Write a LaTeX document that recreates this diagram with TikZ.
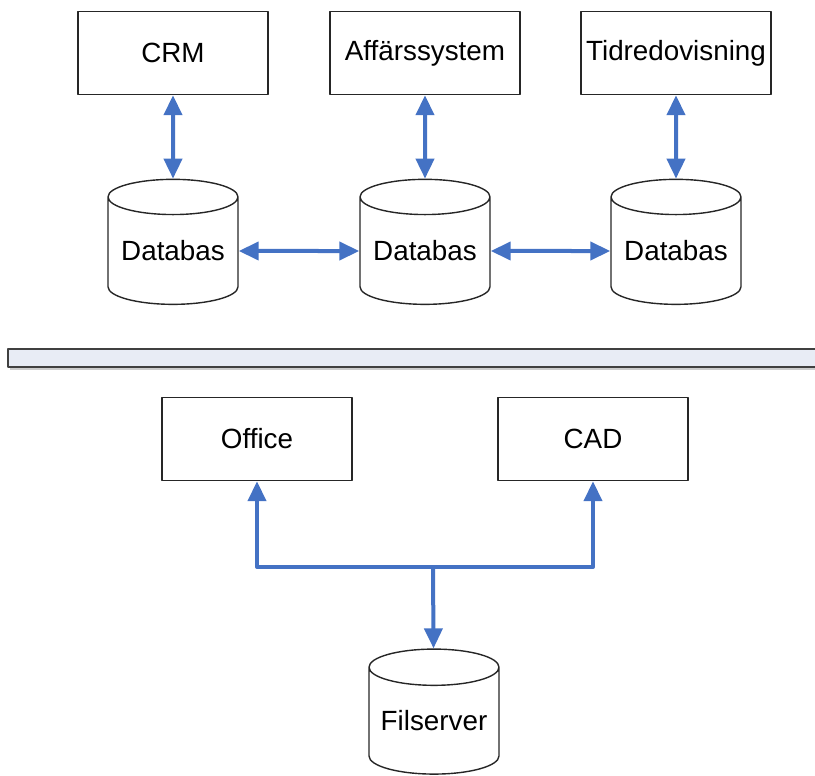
\documentclass[tikz,border=0pt]{standalone}
\usepackage{fontspec}
\setmainfont{Liberation Sans}
\usetikzlibrary{shapes.geometric,arrows.meta}
\definecolor{linkblue}{RGB}{68,114,196}
\definecolor{barfill}{RGB}{232,236,245}
\begin{document}
\begin{tikzpicture}[x=1pt, y=-1pt, line join=round,
		font=\fontsize{27.8}{31}\selectfont,
		sysbox/.style={draw=black!85, line width=1.4pt, minimum width=190pt, minimum height=83pt, inner sep=0pt},
		dbcyl/.style={draw=black!85, line width=1.4pt, cylinder, shape border rotate=90, aspect=0.34, minimum width=130pt, minimum height=125pt, inner sep=0pt},
		link/.style={draw=linkblue, line width=4pt, -{Triangle[length=20pt, width=18pt]}},
		dlink/.style={draw=linkblue, line width=4pt, {Triangle[length=20pt, width=18pt]}-{Triangle[length=20pt, width=18pt]}}]
	\useasboundingbox (0,0) rectangle (815,776);
	% upper part: systems with own databases
	\node[sysbox] (crm) at (173,53) {CRM};
	\node[sysbox] (aff) at (425,53) {Affärssystem};
	\node[sysbox] (tid) at (676,53) {Tidredovisning};
	\node[dbcyl] (db1) at (173,251) {Databas};
	\node[dbcyl] (db2) at (425,251) {Databas};
	\node[dbcyl] (db3) at (676,251) {Databas};
	\draw[dlink] (crm) -- (db1);
	\draw[dlink] (aff) -- (db2);
	\draw[dlink] (tid) -- (db3);
	\draw[dlink] (db1) -- (db2);
	\draw[dlink] (db2) -- (db3);
	% separator
	\fill[black!20] (10,366) rectangle (830,370);
	\draw[draw=black!75, fill=barfill, line width=1.4pt] (8,349) rectangle (830,367);
	% lower part: file based programs
	\node[sysbox] (office) at (257,439) {Office};
	\node[sysbox] (cad) at (593,439) {CAD};
	\node[dbcyl] (fs) at (434,721) {Filserver};
	\coordinate (hub) at (433,567);
	\draw[dlink] (office.south) |- (hub) -| (cad.south);
	\draw[link] (hub) -- (fs);
\end{tikzpicture}
\end{document}
